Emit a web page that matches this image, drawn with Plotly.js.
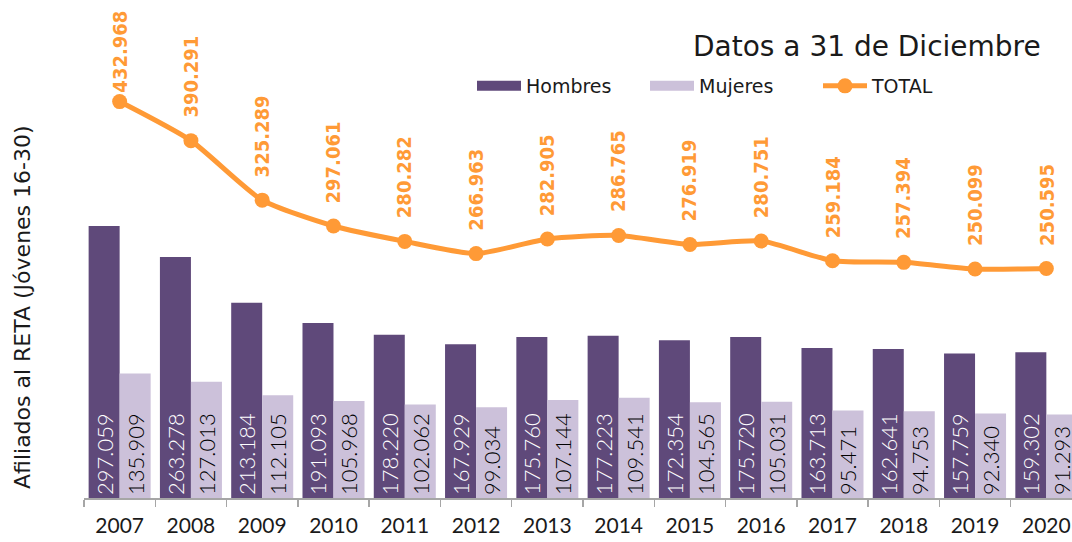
<!DOCTYPE html>
<html>
<head>
<meta charset="utf-8">
<script src="https://cdn.plot.ly/plotly-3.0.1.min.js"></script>
<style>html,body{margin:0;padding:0;background:#fff;}#chart{width:1072px;height:542px;}</style>
</head>
<body>
<div id="chart"></div>
<script>
const years = ['2007','2008','2009','2010','2011','2012','2013','2014','2015','2016','2017','2018','2019','2020'];
const hombres = [297059,263278,213184,191093,178220,167929,175760,177223,172354,175720,163713,162641,157759,159302];
const mujeres = [135909,127013,112105,105968,102062,99034,107144,109541,104565,105031,95471,94753,92340,91293];
const total = [432968,390291,325289,297061,280282,266963,282905,286765,276919,280751,259184,257394,250099,250595];

const fmt = v => v.toLocaleString('de-DE');

const purple = '#5f497a', lilac = '#ccc1da', orange = '#ff9a36';
const W = 1072, H = 542, mT = 10, mB = 44, mL = 84;
const yMax = 533000;
const plotH = H - mT - mB;
const wordFont = '"DejaVu Sans", sans-serif';
const numFont = 'Lato, sans-serif';

const traces = [
  // legend entries (wide swatches like the original)
  {type:'scatter', mode:'lines', name:'Hombres', x:[null], y:[null], line:{color:purple, width:12}, hoverinfo:'skip'},
  {type:'scatter', mode:'lines', name:'Mujeres', x:[null], y:[null], line:{color:lilac, width:12}, hoverinfo:'skip'},
  {type:'bar', name:'Hombres', x:years, y:hombres, marker:{color:purple}, showlegend:false,
   text:hombres.map(fmt), textposition:'inside', insidetextanchor:'start', textangle:-90,
   insidetextfont:{family:numFont, size:22, color:'#ffffff', weight:300}, hoverinfo:'skip'},
  {type:'bar', name:'Mujeres', x:years, y:mujeres, marker:{color:lilac}, showlegend:false,
   text:mujeres.map(fmt), textposition:'inside', insidetextanchor:'start', textangle:-90,
   insidetextfont:{family:numFont, size:22, color:'#000000', weight:300}, hoverinfo:'skip'},
  {type:'scatter', mode:'lines+markers', name:'TOTAL', x:years, y:total,
   line:{color:orange, width:5, shape:'spline', smoothing:0.6},
   marker:{color:orange, size:15}, hoverinfo:'skip'}
];

// vertical labels above the total line
const labelLen = 84, gap = 21;
const annotations = total.map((v, i) => {
  const markerPx = mT + (yMax - v) / yMax * plotH;
  let shift = gap;
  const topPx = markerPx - shift - labelLen;
  if (topPx < 11) shift = Math.max(0, markerPx - labelLen - 11);
  return {x:i, y:v, xref:'x', yref:'y', text:fmt(v), showarrow:false,
    textangle:-90, yanchor:'bottom', xanchor:'center', yshift:shift,
    font:{family:'"DejaVu Sans Condensed", "DejaVu Sans", sans-serif', size:20, color:orange, weight:'bold'}};
});
annotations.push({xref:'paper', yref:'paper', x:(1043-mL)/(W-mL), y:(H-mB-47)/plotH,
  xanchor:'right', yanchor:'middle', showarrow:false, text:'Datos a 31 de Diciembre',
  font:{family:wordFont, size:28, color:'#1a1a1a'}});
annotations.push({xref:'paper', yref:'paper', x:(22-mL)/(W-mL), y:(H-mB-307)/plotH,
  xanchor:'center', yanchor:'middle', showarrow:false, textangle:-90,
  text:'Afiliados al RETA (Jóvenes 16-30)',
  font:{family:wordFont, size:22, color:'#1a1a1a'}});

const layout = {
  width:W, height:H,
  margin:{l:mL, r:0, t:mT, b:mB, pad:0},
  paper_bgcolor:'#fff', plot_bgcolor:'#fff',
  barmode:'group', bargap:0.13, bargroupgap:0,
  uniformtext:{mode:'show', minsize:21},
  showlegend:true,
  legend:{orientation:'h', x:(472-mL)/(W-mL), xanchor:'left', y:(H-mB-86)/plotH, yanchor:'middle',
    font:{family:wordFont, size:19, color:'#1a1a1a'}, bgcolor:'rgba(0,0,0,0)',
    itemwidth:44, tracegroupgap:0, entrywidth:114},
  xaxis:{type:'category', range:[-0.5, 13.36], showline:true, linecolor:'#a6a6a6', linewidth:1.5,
    ticks:'outside', tickson:'boundaries', ticklen:7, tickcolor:'#a6a6a6', tickwidth:1.5,
    ticklabelstandoff:8,
    tickfont:{family:numFont, size:21, color:'#1a1a1a'}, showgrid:false, fixedrange:true},
  yaxis:{range:[0, yMax], visible:false, showgrid:false, zeroline:false, fixedrange:true},
  annotations:annotations
};

Plotly.newPlot('chart', traces, layout, {staticPlot:true, displayModeBar:false});
</script>
</body>
</html>
